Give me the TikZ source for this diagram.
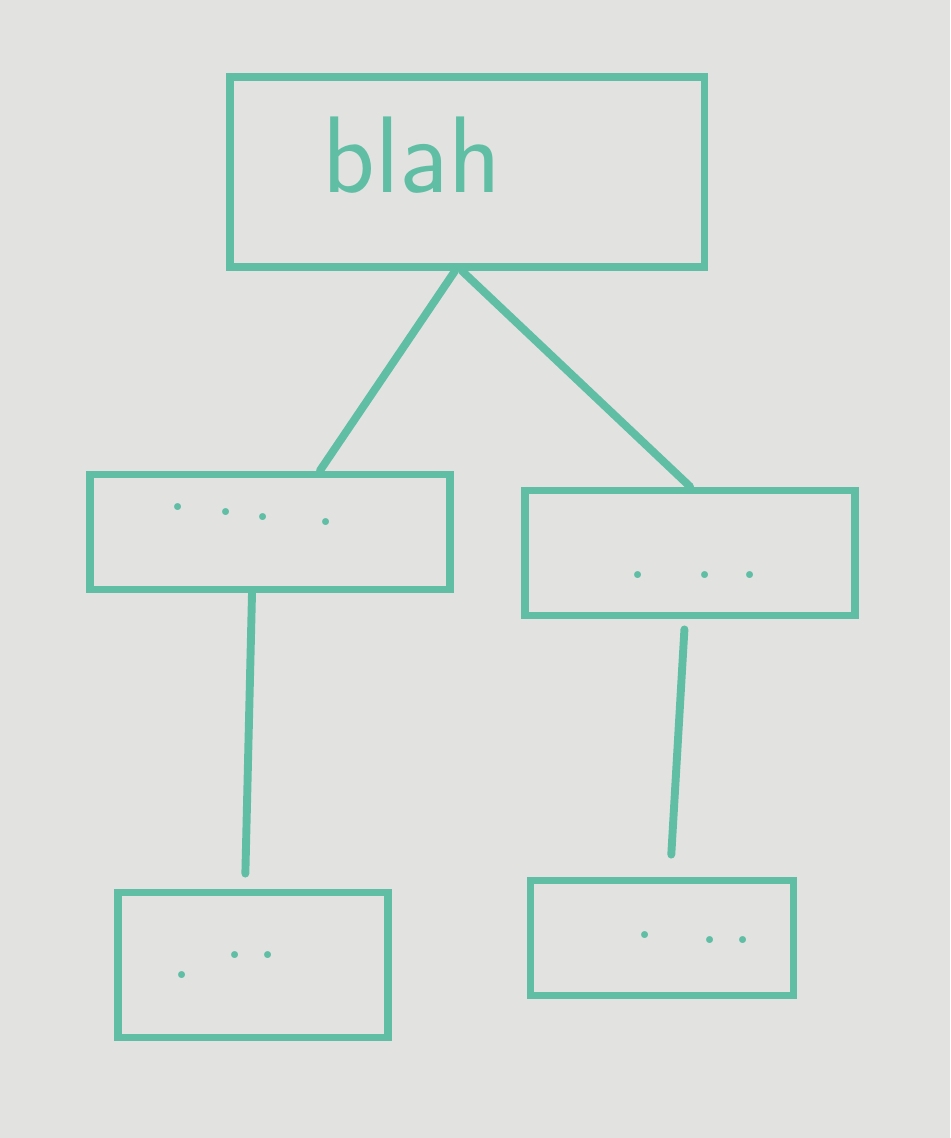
\documentclass[tikz,border=0pt]{standalone}
\usetikzlibrary{calc}
\definecolor{marker}{RGB}{96,190,165}
\definecolor{board}{RGB}{226,227,224}
\tikzset{
  box/.style={draw=marker, line width=4.5pt, rectangle, inner sep=0pt},
  wire/.style={draw=marker, line width=4.5pt, line cap=round},
  dots/.style={text=marker, font=\fontsize{48}{56}\selectfont, inner sep=0pt},
  label/.style={text=marker, font=\sffamily\fontsize{62}{70}\selectfont, inner sep=0pt}
}
\begin{document}
\begin{tikzpicture}[x=0.02cm,y=-0.02cm]
\fill[board] (0,0) rectangle (950,1138);
\useasboundingbox (0,0) rectangle (950,1138);
% boxes
\node[box, minimum width=9.5cm, minimum height=3.8cm] (top) at (467,172) {};
\node[label] (toptext) at (412,155) {blah};
\node[box, minimum width=7.2cm, minimum height=2.3cm] (ml) at (270,532) {};
\node[box, minimum width=6.6cm, minimum height=2.5cm] (mr) at (690,553) {};
\node[box, minimum width=5.4cm, minimum height=2.9cm] (bl) at (253,965) {};
\node[box, minimum width=5.26cm, minimum height=2.3cm] (br) at (662,938) {};
% dots
\node[dots] (mlt) at (252,515) {\raisebox{0.2cm}{.}\hspace{0.53cm}\raisebox{0.1cm}{.}\hspace{0.33cm}.\hspace{0.83cm}\raisebox{-0.1cm}{.}};
\node[dots] (mrt) at (694,575) {.\hspace{0.93cm}.\hspace{0.47cm}.};
\node[dots] (blt) at (225,965) {\raisebox{-0.4cm}{.}\hspace{0.63cm}.\hspace{0.23cm}.};
\node[dots] (brt) at (694,938) {\raisebox{0.1cm}{.}\hspace{0.87cm}.\hspace{0.23cm}.};
% connectors
\draw[wire] ([xshift=-0.24cm]top.south) -- ([xshift=1cm]ml.north);
\draw[wire] ([xshift=-0.1cm]top.south) -- (mr.north);
\draw[wire, shorten >=0.3cm] ([xshift=-0.36cm]ml.south) -- ([xshift=-0.16cm]bl.north);
\draw[wire, shorten <=0.2cm, shorten >=0.44cm] ([xshift=-0.1cm]mr.south) -- ([xshift=0.16cm]br.north);
\end{tikzpicture}
\end{document}
